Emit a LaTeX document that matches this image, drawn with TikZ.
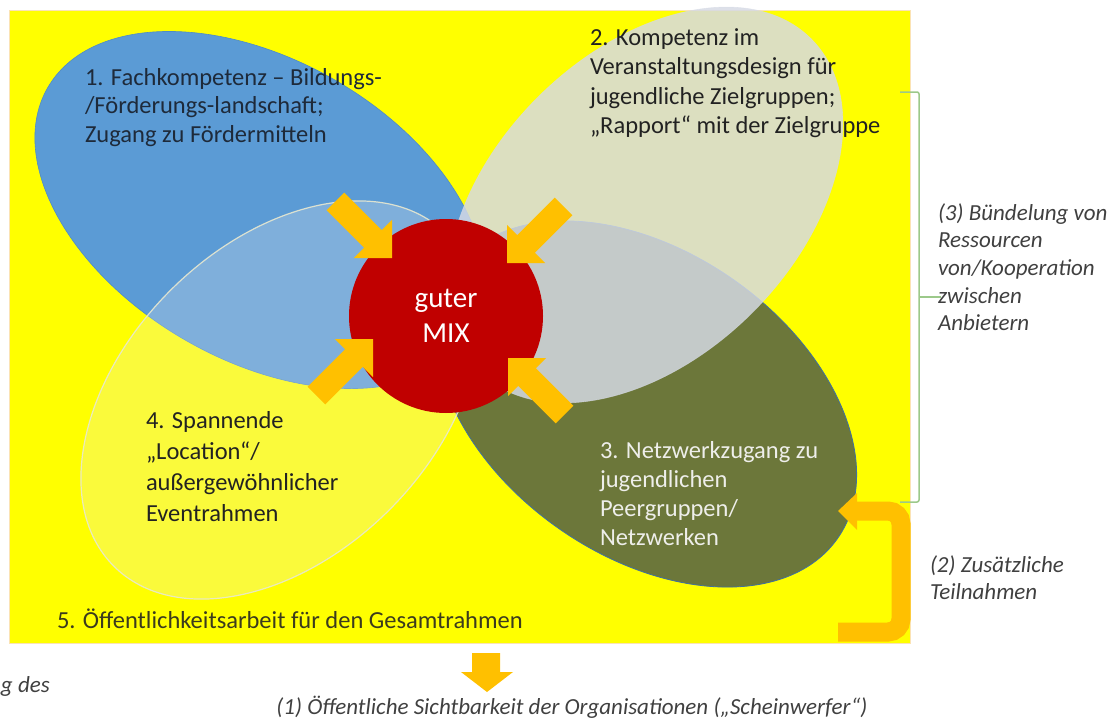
\documentclass[tikz,border=0pt]{standalone}
\usepackage{fontspec}
\setmainfont{Carlito}
\usetikzlibrary{shapes.geometric}
\definecolor{bgyellow}{HTML}{FFFF00}
\definecolor{framepeach}{HTML}{FBE3B5}
\definecolor{petalblue}{HTML}{5B9BD5}
\definecolor{petalblueline}{HTML}{4F8CC4}
\definecolor{petalgrey}{HTML}{D6DAE5}
\definecolor{petalolive}{HTML}{6C773A}
\definecolor{oliveline}{HTML}{41719C}
\definecolor{petalwhite}{HTML}{EEEEEE}
\definecolor{petalwhiteline}{HTML}{E8E8D0}
\definecolor{mixred}{HTML}{C00000}
\definecolor{gold}{HTML}{FFC000}
\definecolor{bracegreen}{HTML}{9CC98A}
\definecolor{notegrey}{HTML}{404040}
\definecolor{textdark}{HTML}{222222}
\definecolor{textnavy}{HTML}{1E2A3A}
\definecolor{textlight}{HTML}{EEEEEA}
\definecolor{textolive}{HTML}{3B3B1E}
\begin{document}
\begin{tikzpicture}[x=1pt,y=-1pt,
  petal/.style={ellipse, inner sep=0pt, outer sep=0pt},
  lab/.style={anchor=base west, inner sep=0pt, outer sep=0pt},
  note/.style={anchor=base west, inner sep=0pt, outer sep=0pt,
    font=\fontsize{23}{27.7}\selectfont\itshape, text=notegrey},
  blockarrow/.pic={\fill[gold] (-80,-12.5) -- (-27,-12.5) -- (-27,-27) -- (0,0)
    -- (-27,27) -- (-27,12.5) -- (-80,12.5) -- cycle;}
]
\useasboundingbox (0,0) rectangle (1113,720);

% frame
\node[draw=framepeach, line width=0.8pt, fill=bgyellow, inner sep=0pt, outer sep=0pt,
  minimum width=901pt, minimum height=633pt, anchor=north west] (frame) at (9,10) {};

% petals
\node[petal, fill=petalolive, draw=oliveline, line width=0.8pt,
  minimum width=468pt, minimum height=304pt, rotate=-35] (p3) at (646,404) {};
\node[petal, fill=petalblue, draw=petalblueline, line width=0.6pt,
  minimum width=490pt, minimum height=300pt, rotate=-30] (p1) at (260,210) {};
\node[petal, fill=petalwhite, fill opacity=0.25, draw=petalwhiteline, draw opacity=0.9,
  line width=1.2pt, minimum width=470pt, minimum height=310pt, rotate=45] (p4) at (280,400) {};
\node[petal, fill=petalgrey, fill opacity=0.84, draw=petalgrey, draw opacity=0.6,
  line width=0.6pt, minimum width=470pt, minimum height=304pt, rotate=45] (p2) at (645,205) {};

% centre
\node[circle, fill=mixred, minimum size=194pt, inner sep=0pt, text=white, align=center,
  font=\fontsize{29}{35}\selectfont] (mix) at (446,316) {guter\\MIX};

% arrows into the centre
\pic[rotate=-45] at (392,258) {blockarrow};
\pic[rotate=-135] at (507,263) {blockarrow};
\pic[rotate=45] at (373,339) {blockarrow};
\pic[rotate=135] at (508,358) {blockarrow};

% labels
\node[lab, text=textnavy, font=\fontsize{24.5}{28.5}\selectfont] (l1) at (85,85)
  {\begin{tabular}[t]{@{}l@{}}1. Fachkompetenz – Bildungs-\\/Förderungs-landschaft;\\Zugang zu Fördermitteln\end{tabular}};
\node[lab, text=textdark, font=\fontsize{24.5}{29.5}\selectfont] (l2) at (590,45)
  {\begin{tabular}[t]{@{}l@{}}2. Kompetenz im\\Veranstaltungsdesign für\\jugendliche Zielgruppen;\\„Rapport“ mit der Zielgruppe\end{tabular}};
\node[lab, text=textlight, font=\fontsize{24.5}{29.3}\selectfont] (l3) at (600,458)
  {\begin{tabular}[t]{@{}l@{}}3. Netzwerkzugang zu\\jugendlichen\\Peergruppen/\\Netzwerken\end{tabular}};
\node[lab, text=textdark, font=\fontsize{24.5}{31.3}\selectfont] (l4) at (146,428)
  {\begin{tabular}[t]{@{}l@{}}4. Spannende\\„Location“/\\außergewöhnlicher\\Eventrahmen\end{tabular}};
\node[lab, text=textolive, font=\fontsize{24.5}{29}\selectfont] (l5) at (57,628)
  {5. Öffentlichkeitsarbeit für den Gesamtrahmen};

% bracket (3)
\coordinate (bt) at (900,92);
\coordinate (bb) at (900,502);
\coordinate (bm) at (919,297);
\coordinate (btip) at (941,297);
\draw[bracegreen, line width=1.5pt, rounded corners=2pt]
  (bt) -- (919,92) -- (919,502) -- (bb);
\draw[bracegreen, line width=1.5pt] (bm) -- (btip);
\node[note] (n3) at (938,220)
  {\begin{tabular}[t]{@{}l@{}}(3) Bündelung von\\Ressourcen\\von/Kooperation\\zwischen\\Anbietern\end{tabular}};

% loop arrow (2)
\coordinate (ls) at (838,632);
\coordinate (le) at (853,511);
\draw[gold, line width=19pt, rounded corners=13pt] (ls) -- (901,632) -- (901,511) -- (le);
\fill[gold] (838,511) -- (857,493) -- (857,530) -- cycle;
\node[note] (n2) at (930,572)
  {\begin{tabular}[t]{@{}l@{}}(2) Zusätzliche\\Teilnahmen\end{tabular}};

% down arrow (1)
\fill[gold] (472,653) -- (500,653) -- (500,672) -- (513,672) -- (487,692)
  -- (461,672) -- (472,672) -- cycle;
\node[note, anchor=base] (n1) at (572,714)
  {(1) Öffentliche Sichtbarkeit der Organisationen („Scheinwerfer“)};
\node[note] (n0) at (1,692) {g des};
\end{tikzpicture}
\end{document}
